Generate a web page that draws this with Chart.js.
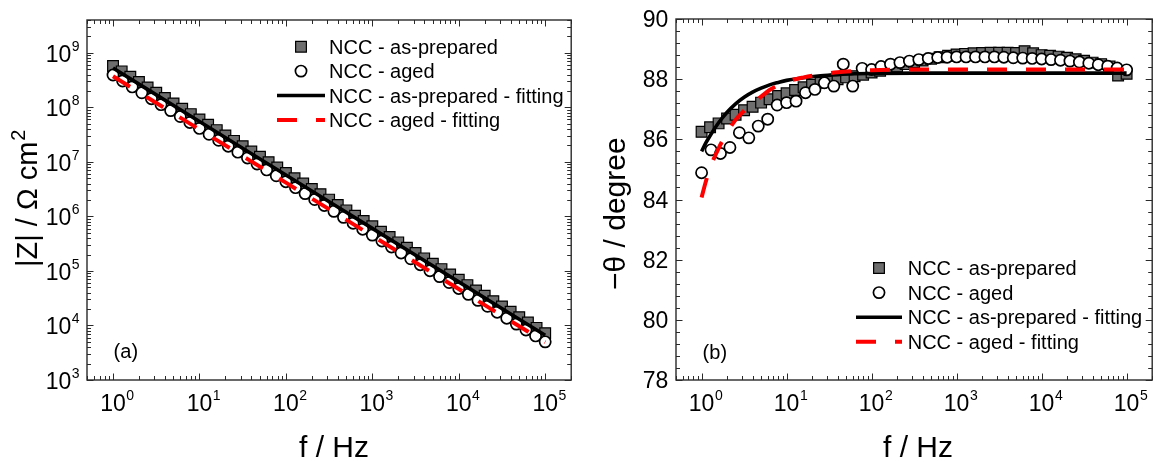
<!DOCTYPE html>
<html><head><meta charset="utf-8">
<script src="https://cdn.jsdelivr.net/npm/chart.js@4.4.1/dist/chart.umd.min.js"></script>
<style>
html,body{margin:0;padding:0;background:#fff;}
#wrap{position:relative;width:1161px;height:462px;overflow:hidden;}
canvas{position:absolute;top:0;}
</style></head><body>
<div id="wrap">
<canvas id="ca" width="580" height="462" style="left:0px;width:580px;height:462px"></canvas>
<canvas id="cb" width="581" height="462" style="left:580px;width:581px;height:462px"></canvas>
</div>
<script>
// ---------- data ----------
const seriesLabels = ['NCC - as-prepared', 'NCC - aged', 'NCC - as-prepared - fitting', 'NCC - aged - fitting'];

// frequencies (Hz): as-prepared measured 10 pts/decade, aged measured 9 pts/decade
const freqPrep = [1,1.259,1.585,1.995,2.512,3.162,3.981,5.012,6.310,7.943,
  10,12.59,15.85,19.95,25.12,31.62,39.81,50.12,63.10,79.43,
  100,125.9,158.5,199.5,251.2,316.2,398.1,501.2,631.0,794.3,
  1000,1259,1585,1995,2512,3162,3981,5012,6310,7943,
  10000,12590,15850,19950,25120,31620,39810,50120,63100,79430,100000];
const freqAged = [1,1.292,1.668,2.154,2.783,3.594,4.642,5.995,7.743,
  10,12.92,16.68,21.54,27.83,35.94,46.42,59.95,77.43,
  100,129.2,166.8,215.4,278.3,359.4,464.2,599.5,774.3,
  1000,1292,1668,2154,2783,3594,4642,5995,7743,
  10000,12920,16680,21540,27830,35940,46420,59950,77430,100000];

// (a) |Z| / Ohm cm2
const zPrep = [5.73e8,4.57e8,3.65e8,2.91e8,2.32e8,1.85e8,1.48e8,1.18e8,9.42e7,7.52e7,
  6.00e7,4.79e7,3.82e7,3.05e7,2.43e7,1.94e7,1.55e7,1.24e7,9.86e6,7.87e6,
  6.28e6,5.01e6,4.00e6,3.19e6,2.55e6,2.03e6,1.62e6,1.29e6,1.03e6,8.24e5,
  6.58e5,5.25e5,4.19e5,3.34e5,2.67e5,2.13e5,1.70e5,1.36e5,1.08e5,8.63e4,
  6.89e4,5.50e4,4.39e4,3.50e4,2.79e4,2.23e4,1.78e4,1.42e4,1.13e4,9.04e3,7.21e3];
const zAged = [3.92e8,3.05e8,2.37e8,1.85e8,1.44e8,1.12e8,8.73e7,6.79e7,5.28e7,
  4.11e7,3.21e7,2.49e7,1.94e7,1.51e7,1.18e7,9.16e6,7.13e6,5.56e6,
  4.33e6,3.37e6,2.62e6,2.04e6,1.59e6,1.24e6,9.62e5,7.50e5,5.83e5,
  4.54e5,3.54e5,2.75e5,2.14e5,1.67e5,1.30e5,1.01e5,7.87e4,6.13e4,
  4.77e4,3.72e4,2.89e4,2.25e4,1.75e4,1.36e4,1.06e4,8.28e3,6.44e3,5.01e3];
const fitFreqZ = [1,10,100,1000,10000,100000];
const fitZPrep = [5.25e8,5.50e7,5.75e6,6.03e5,6.31e4,6.61e3];
const fitZAged = [3.72e8,3.93e7,4.16e6,4.40e5,4.65e4,4.92e3];

// (b) -theta / degree
const phPrep = [86.25,86.40,86.53,86.69,86.82,86.97,87.08,87.22,87.33,87.44,
  87.53,87.64,87.73,87.81,87.88,87.95,88.00,88.06,88.10,88.15,
  88.22,88.28,88.35,88.42,88.50,88.56,88.62,88.68,88.73,88.78,
  88.82,88.84,88.86,88.87,88.88,88.88,88.88,88.87,88.93,88.86,
  88.80,88.78,88.75,88.71,88.66,88.61,88.55,88.50,88.42,88.12,88.18];
const phAged = [84.89,85.65,85.53,85.73,86.22,86.05,86.44,86.67,87.14,
  87.22,87.27,87.55,87.66,87.88,87.77,88.50,87.77,88.36,
  88.32,88.42,88.50,88.55,88.60,88.65,88.69,88.72,88.73,
  88.74,88.74,88.74,88.74,88.74,88.73,88.71,88.70,88.69,
  88.67,88.65,88.63,88.60,88.57,88.53,88.48,88.43,88.37,88.31];
const fitFreqPh = [1,1.122,1.259,1.585,1.995,2.512,3.162,3.981,5.012,6.310,7.943,10,15.85,25.12,39.81,63.10,100,316.2,1000,10000,100000];
const fitPhPrep = [85.60,85.88,86.12,86.55,86.90,87.18,87.40,87.57,87.70,87.81,87.89,87.96,88.05,88.11,88.15,88.18,88.19,88.20,88.20,88.20,88.20];
const fitPhAged = [84.07,84.60,85.05,85.70,86.22,86.65,86.95,87.20,87.42,87.64,87.80,87.92,88.06,88.16,88.23,88.27,88.30,88.32,88.32,88.32,88.32];

// tick labels
const freqTickExps = [0,1,2,3,4,5];
const zTickExps = [3,4,5,6,7,8,9];
const phTicks = [78,80,82,84,86,88,90];

// ---------- drawing ----------
const FONT = '"Liberation Sans", Arial, Helvetica, sans-serif';
const pts = (xs, ys) => xs.map((v, i) => ({x: v, y: ys[i]}));

function datasets(fx1, y1, fx2, y2, ffx, fy1, fy2) {
  return [
    {label: seriesLabels[0], data: pts(fx1, y1), showLine: false, pointStyle: 'rect', pointRadius: 7.6,
     backgroundColor: '#6e6e6e', borderColor: '#000', borderWidth: 1.2, order: 4},
    {label: seriesLabels[1], data: pts(fx2, y2), showLine: false, pointStyle: 'circle', pointRadius: 5.6,
     backgroundColor: '#fff', borderColor: '#000', borderWidth: 1.7, order: 3},
    {label: seriesLabels[2], data: pts(ffx, fy1), showLine: true, pointRadius: 0, borderColor: '#000',
     borderWidth: 3.6, cubicInterpolationMode: 'monotone', order: 2, fill: false},
    {label: seriesLabels[3], data: pts(ffx, fy2), showLine: true, pointRadius: 0, borderColor: '#ff0000',
     borderWidth: 4, borderDash: [20, 19], cubicInterpolationMode: 'monotone', order: 1, fill: false}
  ];
}

function logTicks(min, max) {
  const out = [];
  for (let n = Math.floor(Math.log10(min)); n <= Math.ceil(Math.log10(max)); n++) {
    for (let m = 1; m <= 9; m++) {
      const v = m * Math.pow(10, n);
      if (v >= min * 0.9999 && v <= max * 1.0001) out.push({v, major: m === 1});
    }
  }
  return out;
}

const framePlugin = {
  id: 'frame',
  afterDraw(chart, args, o) {
    const {ctx, chartArea: a, scales: {x, y}} = chart;
    ctx.save();
    ctx.strokeStyle = '#2a2a2a';
    ctx.lineWidth = 1;
    const MAJ = 6.5, MIN = 4;
    for (const t of logTicks(x.min, x.max)) {
      const px = Math.round(x.getPixelForValue(t.v)) + 0.5;
      const L = t.major ? MAJ : MIN;
      ctx.beginPath();
      ctx.moveTo(px, a.bottom); ctx.lineTo(px, a.bottom - L);
      ctx.moveTo(px, a.top); ctx.lineTo(px, a.top + L);
      ctx.stroke();
    }
    let yt;
    if (o.yLog) yt = logTicks(y.min, y.max);
    else { yt = []; for (let i = 0; i <= 30; i++) { const v = y.min + i * 0.4; yt.push({v, major: i % 5 === 0}); } }
    for (const t of yt) {
      const py = Math.round(y.getPixelForValue(t.v)) + 0.5;
      const L = t.major ? MAJ : MIN;
      ctx.beginPath();
      ctx.moveTo(a.left, py); ctx.lineTo(a.left + L, py);
      ctx.moveTo(a.right, py); ctx.lineTo(a.right - L, py);
      ctx.stroke();
    }
    ctx.lineWidth = 1.4;
    ctx.strokeRect(a.left, a.top, a.right - a.left, a.bottom - a.top);

    ctx.fillStyle = '#000';
    ctx.textBaseline = 'alphabetic';
    ctx.textAlign = 'left';
    // x tick labels 10^n
    for (const e of freqTickExps) {
      const px = x.getPixelForValue(Math.pow(10, e));
      ctx.font = '23px ' + FONT;
      const bw = ctx.measureText('10').width;
      ctx.fillText('10', px - bw / 2, a.bottom + 31);
      ctx.font = '14px ' + FONT;
      ctx.fillText(String(e), px + bw / 2 + 0.5, a.bottom + 20);
    }
    // y tick labels
    if (o.yLog) {
      for (const e of zTickExps) {
        const py = y.getPixelForValue(Math.pow(10, e));
        const right = a.left - 7.5;
        ctx.font = '14px ' + FONT;
        const ew = ctx.measureText(String(e)).width;
        ctx.fillText(String(e), right - ew, py - 2);
        ctx.font = '23px ' + FONT;
        const bw = ctx.measureText('10').width;
        ctx.fillText('10', right - ew - 0.5 - bw, py + 9);
      }
    } else {
      ctx.font = '23px ' + FONT;
      ctx.textAlign = 'right';
      for (const v of phTicks) {
        const py = y.getPixelForValue(v);
        ctx.fillText(String(v), a.left - 7.7, py + 8);
      }
      ctx.textAlign = 'left';
    }
    // x title
    ctx.font = '30px ' + FONT;
    ctx.textAlign = 'center';
    ctx.fillText('f / Hz', o.xTitleX, 456.5);
    ctx.textAlign = 'left';
    // y title (rotated)
    ctx.save();
    ctx.translate(o.yTitle.x, o.yTitle.y);
    ctx.rotate(-Math.PI / 2);
    ctx.font = o.yTitle.size + 'px ' + FONT;
    ctx.fillText(o.yTitle.text, 0, 0);
    if (o.yTitle.sup) {
      const w = ctx.measureText(o.yTitle.text).width;
      ctx.font = '20px ' + FONT;
      ctx.fillText(o.yTitle.sup, w + 1, -12);
    }
    ctx.restore();
    // panel label
    ctx.font = '20px ' + FONT;
    ctx.fillText(o.panel.text, o.panel.x, o.panel.y);
    // legend
    const L = o.legend;
    chart.data.datasets.forEach((ds, i) => {
      const cy = L.y0 + i * L.dy;
      ctx.save();
      if (ds.showLine) {
        ctx.strokeStyle = ds.borderColor;
        ctx.lineWidth = ds.borderWidth;
        ctx.setLineDash(ds.borderDash || []);
        ctx.beginPath();
        ctx.moveTo(L.lx0, cy); ctx.lineTo(L.lx1, cy);
        ctx.stroke();
      } else {
        ctx.fillStyle = ds.backgroundColor;
        ctx.strokeStyle = ds.borderColor;
        ctx.lineWidth = ds.borderWidth;
        ctx.beginPath();
        if (ds.pointStyle === 'rect') {
          const s = Math.SQRT1_2 * ds.pointRadius;
          ctx.rect(L.sx - s, cy - s, 2 * s, 2 * s);
        } else {
          ctx.arc(L.sx, cy, ds.pointRadius, 0, Math.PI * 2);
        }
        ctx.fill(); ctx.stroke();
      }
      ctx.restore();
      ctx.fillStyle = '#000';
      ctx.font = '20px ' + FONT;
      ctx.fillText(ds.label, L.tx, cy + 7);
    });
    ctx.restore();
  }
};

const common = (pad, yScale, frameOpts) => ({
  responsive: false, animation: false, devicePixelRatio: 1,
  layout: {padding: pad},
  events: [],
  plugins: {legend: {display: false}, tooltip: {enabled: false}, frame: frameOpts},
  scales: {
    x: {type: 'logarithmic', min: 0.5, max: 2e5, display: false},
    y: yScale
  }
});

new Chart(document.getElementById('ca'), {
  type: 'scatter',
  data: {datasets: datasets(freqPrep, zPrep, freqAged, zAged, fitFreqZ, fitZPrep, fitZAged)},
  options: common({left: 87, right: 8, top: 20, bottom: 82},
    {type: 'logarithmic', min: 1e3, max: 4e9, display: false},
    {yLog: true, xTitleX: 334,
     yTitle: {x: 36.5, y: 267, text: '|Z| / \u03A9 cm', sup: '2', size: 29},
     panel: {text: '(a)', x: 113.6, y: 357.8},
     legend: {sx: 301, lx0: 277, lx1: 325, tx: 329, y0: 46.7, dy: 24.4}}),
  plugins: [framePlugin]
});

new Chart(document.getElementById('cb'), {
  type: 'scatter',
  data: {datasets: datasets(freqPrep, phPrep, freqAged, phAged, fitFreqPh, fitPhPrep, fitPhAged)},
  options: common({left: 96, right: 2, top: 19, bottom: 82},
    {type: 'linear', min: 78, max: 90, display: false},
    {yLog: false, xTitleX: 338,
     yTitle: {x: 44.5, y: 290, text: '\u2212\u03B8 / degree', size: 30},
     panel: {text: '(b)', x: 122.6, y: 359},
     legend: {sx: 299, lx0: 276, lx1: 322, tx: 327.7, y0: 268, dy: 24.6}}),
  plugins: [framePlugin]
});
</script>
</body></html>
